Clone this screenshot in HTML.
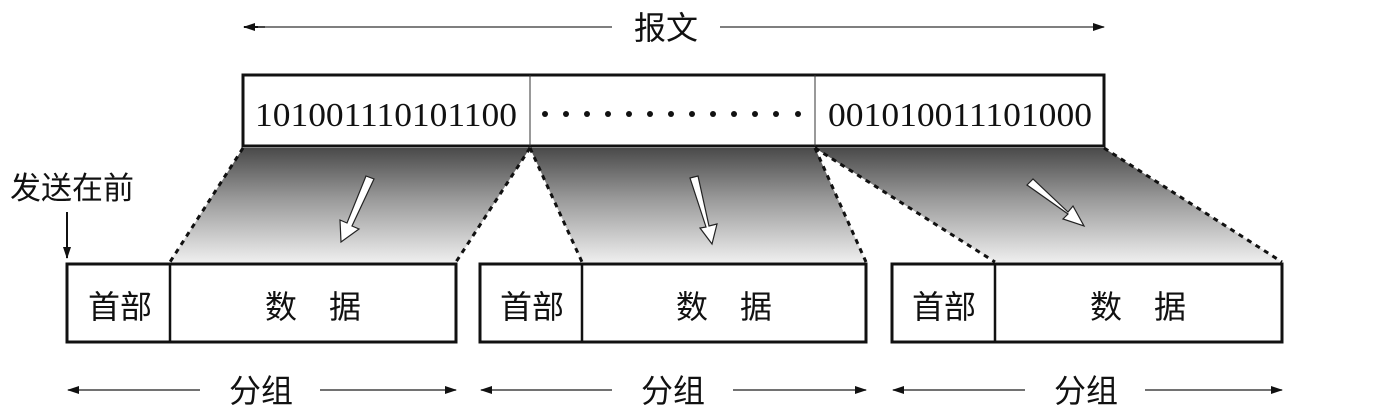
<!DOCTYPE html>
<html><head><meta charset="utf-8"><style>
html,body{margin:0;padding:0;background:#fff;width:1394px;height:414px;overflow:hidden}
svg{display:block}
text{font-family:"Liberation Sans","Noto Sans CJK SC",sans-serif;fill:#111}
.num{font-family:"Liberation Serif","Noto Serif CJK SC",serif;font-size:34px}
</style></head><body>
<svg width="1394" height="414" viewBox="0 0 1394 414">
<defs>
<linearGradient id="g" x1="0" y1="0" x2="0" y2="1">
<stop offset="0" stop-color="#4a4a4a"/><stop offset="0.45" stop-color="#9a9a9a"/><stop offset="1" stop-color="#eeeeee"/>
</linearGradient>
<marker id="ah" markerWidth="12" markerHeight="8" refX="11" refY="4" orient="auto" markerUnits="userSpaceOnUse">
<path d="M0,0 L12,4 L0,8 Z" fill="#111"/></marker>
</defs>
<line x1="265" y1="27" x2="244" y2="27" stroke="#111" stroke-width="2" marker-end="url(#ah)"/>
<line x1="258" y1="27" x2="612" y2="27" stroke="#555" stroke-width="1.5"/>
<line x1="720" y1="27" x2="1104" y2="27" stroke="#555" stroke-width="1.5" marker-end="url(#ah)"/>
<text x="666" y="39" font-size="32" text-anchor="middle">报文</text>
<polygon points="243,148 530,148 456,262 170,262" fill="url(#g)"/>
<polygon points="530,148 815,148 866,262 582,262" fill="url(#g)"/>
<polygon points="815,148 1104,148 1282,262 995,262" fill="url(#g)"/>
<g stroke="#111" stroke-width="3" stroke-dasharray="5,5" fill="none">
<line x1="243" y1="148" x2="170" y2="262"/>
<line x1="530" y1="148" x2="456" y2="262"/>
<line x1="530" y1="148" x2="582" y2="262"/>
<line x1="815" y1="148" x2="866" y2="262"/>
<line x1="815" y1="148" x2="995" y2="262"/>
<line x1="1104" y1="148" x2="1282" y2="262"/>
</g>
<g fill="#fff" stroke="#222" stroke-width="1.2">
<polygon points="366,176 374,179 352,226 359,229 341,242 340,220 347,223"/>
<polygon points="690,178 698,176 709,226 717,224 712,244 700,228 706,227"/>
<polygon points="1027,185 1033,179 1068,212 1073,206 1084,226 1063,219 1068,214"/>
</g>
<rect x="243" y="75" width="861" height="71" fill="#fff" stroke="#111" stroke-width="3"/>
<line x1="530" y1="75" x2="530" y2="146" stroke="#333" stroke-width="1"/>
<line x1="815" y1="75" x2="815" y2="146" stroke="#333" stroke-width="1"/>
<text class="num" x="386" y="126" text-anchor="middle" textLength="262" lengthAdjust="spacingAndGlyphs">101001110101100</text>
<text class="num" x="960" y="126" text-anchor="middle" textLength="264" lengthAdjust="spacingAndGlyphs">001010011101000</text>
<g fill="#111">
<circle cx="545" cy="114" r="3"/><circle cx="566" cy="114" r="3"/><circle cx="587" cy="114" r="3"/><circle cx="608" cy="114" r="3"/><circle cx="629" cy="114" r="3"/><circle cx="650" cy="114" r="3"/><circle cx="671" cy="114" r="3"/><circle cx="692" cy="114" r="3"/><circle cx="713" cy="114" r="3"/><circle cx="734" cy="114" r="3"/><circle cx="755" cy="114" r="3"/><circle cx="776" cy="114" r="3"/><circle cx="798" cy="114" r="3"/>
</g>
<text x="10" y="199" font-size="31">发送在前</text>
<line x1="67" y1="212" x2="67" y2="258" stroke="#111" stroke-width="2" marker-end="url(#ah)"/>
<g fill="#fff" stroke="#111" stroke-width="3">
<rect x="67" y="264" width="389" height="78"/>
<rect x="480" y="264" width="386" height="78"/>
<rect x="892" y="264" width="390" height="78"/>
</g>
<g stroke="#111" stroke-width="2.5">
<line x1="170" y1="264" x2="170" y2="342"/>
<line x1="582" y1="264" x2="582" y2="342"/>
<line x1="995" y1="264" x2="995" y2="342"/>
</g>
<g font-size="32" text-anchor="middle">
<text x="120" y="318">首部</text><text x="313" y="318">数　据</text>
<text x="532" y="318">首部</text><text x="724" y="318">数　据</text>
<text x="944" y="318">首部</text><text x="1138" y="318">数　据</text>
</g>
<g stroke="#444" stroke-width="1.5">
<line x1="200" y1="390" x2="68" y2="390" marker-end="url(#ah)"/>
<line x1="320" y1="390" x2="456" y2="390" marker-end="url(#ah)"/>
<line x1="612" y1="390" x2="481" y2="390" marker-end="url(#ah)"/>
<line x1="733" y1="390" x2="866" y2="390" marker-end="url(#ah)"/>
<line x1="1025" y1="390" x2="893" y2="390" marker-end="url(#ah)"/>
<line x1="1145" y1="390" x2="1282" y2="390" marker-end="url(#ah)"/>
</g>
<g font-size="32" text-anchor="middle">
<text x="261" y="402">分组</text>
<text x="673" y="402">分组</text>
<text x="1086" y="402">分组</text>
</g>
</svg>
</body></html>
